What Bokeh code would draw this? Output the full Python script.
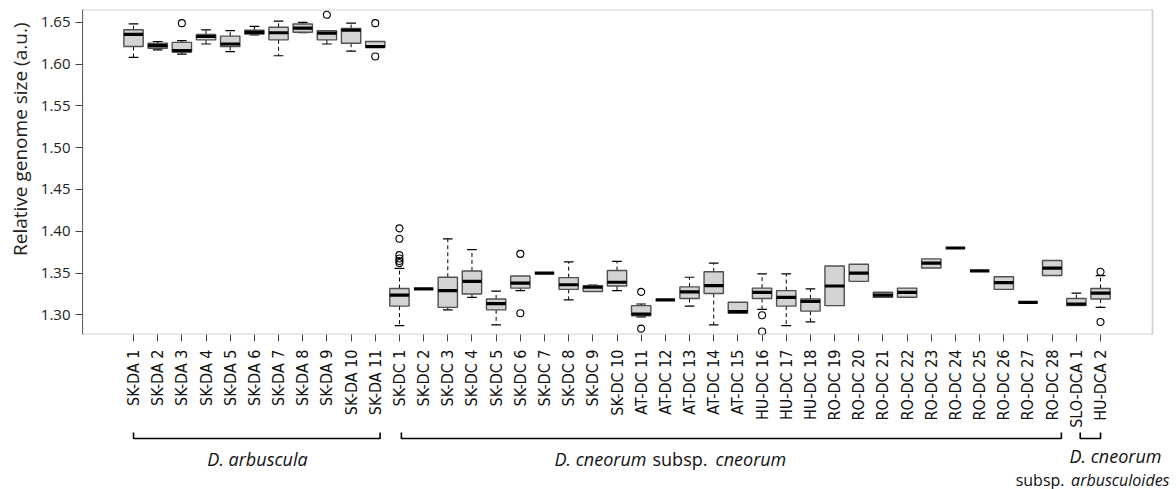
import numpy as np
from bokeh.plotting import figure
from bokeh.layouts import column
from bokeh.models import (Range1d, FixedTicker, PrintfTickFormatter, Title,
                          ColumnDataSource, BoxAnnotation)
from bokeh.core.properties import value
from bokeh.embed import file_html
from bokeh.resources import INLINE

# ---------------- data ----------------
names = ["SK-DA 1", "SK-DA 2", "SK-DA 3", "SK-DA 4", "SK-DA 5", "SK-DA 6",
         "SK-DA 7", "SK-DA 8", "SK-DA 9", "SK-DA 10", "SK-DA 11",
         "SK-DC 1", "SK-DC 2", "SK-DC 3", "SK-DC 4", "SK-DC 5", "SK-DC 6",
         "SK-DC 7", "SK-DC 8", "SK-DC 9", "SK-DC 10", "AT-DC 11", "AT-DC 12",
         "AT-DC 13", "AT-DC 14", "AT-DC 15", "HU-DC 16", "HU-DC 17", "HU-DC 18",
         "RO-DC 19", "RO-DC 20", "RO-DC 21", "RO-DC 22", "RO-DC 23", "RO-DC 24",
         "RO-DC 25", "RO-DC 26", "RO-DC 27", "RO-DC 28", "SLO-DCA 1", "HU-DCA 2"]

lower_whisker = [1.608, 1.617, 1.612, 1.624, 1.615, 1.635, 1.610, 1.6375, 1.624, 1.6155, 1.620,
                 1.287, 1.331, 1.306, 1.321, 1.288, 1.329, 1.350, 1.318, 1.328, 1.329,
                 1.2975, 1.318, 1.3105, 1.288, 1.302, 1.3065, 1.287, 1.2915,
                 1.311, 1.340, 1.321, 1.321, 1.356, 1.380, 1.3525, 1.3305, 1.315, 1.347,
                 1.311, 1.309]
q1 = [1.621, 1.619, 1.6145, 1.629, 1.621, 1.636, 1.629, 1.638, 1.629, 1.625, 1.620,
      1.3105, 1.331, 1.309, 1.325, 1.306, 1.332, 1.350, 1.3305, 1.328, 1.3345,
      1.299, 1.318, 1.3195, 1.3255, 1.302, 1.3195, 1.3105, 1.3045,
      1.311, 1.340, 1.321, 1.321, 1.356, 1.380, 1.3525, 1.3305, 1.315, 1.347,
      1.311, 1.319]
median = [1.6355, 1.622, 1.616, 1.633, 1.624, 1.638, 1.6375, 1.643, 1.637, 1.6405, 1.621,
          1.3235, 1.331, 1.329, 1.340, 1.3135, 1.338, 1.350, 1.336, 1.333, 1.339,
          1.301, 1.318, 1.3275, 1.335, 1.304, 1.327, 1.321, 1.316,
          1.3345, 1.350, 1.3235, 1.327, 1.362, 1.380, 1.3525, 1.3385, 1.315, 1.356,
          1.313, 1.326]
q3 = [1.641, 1.625, 1.626, 1.6355, 1.6335, 1.6405, 1.644, 1.648, 1.640, 1.6425, 1.627,
      1.3315, 1.331, 1.345, 1.3525, 1.319, 1.3465, 1.350, 1.3445, 1.335, 1.353,
      1.311, 1.318, 1.3335, 1.3515, 1.315, 1.332, 1.329, 1.319,
      1.3585, 1.3605, 1.327, 1.332, 1.367, 1.380, 1.3525, 1.3455, 1.315, 1.365,
      1.3195, 1.3315]
upper_whisker = [1.648, 1.627, 1.628, 1.641, 1.640, 1.645, 1.6515, 1.650, 1.640, 1.649, 1.627,
                 1.3555, 1.331, 1.391, 1.378, 1.3285, 1.3465, 1.350, 1.3635, 1.3355, 1.364,
                 1.313, 1.318, 1.345, 1.362, 1.315, 1.349, 1.349, 1.331,
                 1.3585, 1.3605, 1.327, 1.332, 1.367, 1.380, 1.3525, 1.3455, 1.315, 1.365,
                 1.326, 1.347]

outlier_cat = ["SK-DA 3", "SK-DA 9", "SK-DA 11", "SK-DA 11",
               "SK-DC 1", "SK-DC 1", "SK-DC 1", "SK-DC 1", "SK-DC 1", "SK-DC 1",
               "SK-DC 6", "SK-DC 6", "AT-DC 11", "AT-DC 11", "HU-DC 16", "HU-DC 16",
               "HU-DCA 2", "HU-DCA 2"]
outlier_val = [1.649, 1.659, 1.649, 1.609,
               1.4035, 1.391, 1.3715, 1.3675, 1.3645, 1.362,
               1.373, 1.302, 1.3275, 1.2835, 1.2995, 1.280,
               1.3515, 1.2915]

y_ticks = [1.30, 1.35, 1.40, 1.45, 1.50, 1.55, 1.60, 1.65]

groups_first = ["SK-DA 1", "SK-DC 1", "SLO-DCA 1"]
groups_last = ["SK-DA 11", "RO-DC 28", "HU-DCA 2"]

# ---------------- geometry ----------------
W = 1174
BL = 82                      # left border (px)
FRAME_R = 1152               # right edge of the drawn box (page px)
X0, XB = -1.11, 43.15        # data x at box left / box right
xpx = (XB - X0) / (FRAME_R - BL)
BR = 2
X1 = X0 + (W - BR - BL) * xpx   # frame extended to the right for the labels
Y0, Y1 = 1.2765, 1.6653

x = np.arange(1, len(names) + 1, dtype=float)
pos = {n: i + 1 for i, n in enumerate(names)}

p = figure(width=W, height=430,
           x_range=Range1d(X0, X1), y_range=Range1d(Y0, Y1),
           output_backend="svg", toolbar_location=None,
           min_border_left=BL, min_border_right=BR, min_border_top=9,
           min_border_bottom=90)
p.background_fill_color = "white"
p.border_fill_color = "white"
p.outline_line_color = None
p.xgrid.visible = False
p.ygrid.visible = False

# plot box
p.add_layout(BoxAnnotation(left=X0, right=XB, bottom=Y0, top=Y1,
                           fill_alpha=0, fill_color=None,
                           line_color="#666666", line_width=1.8))

lw = np.array(lower_whisker); uq = np.array(q3); lq = np.array(q1); uw = np.array(upper_whisker)
src = ColumnDataSource(dict(x=x, xl=x - 0.4, xr=x + 0.4, lw=lw, q1=lq, med=median, q3=uq, uw=uw))

up = uw > uq
lo = lw < lq
p.segment(x0=x[up], y0=uq[up], x1=x[up], y1=uw[up], line_color="black",
          line_dash="4 3", line_width=1)
p.segment(x0=x[lo], y0=lq[lo], x1=x[lo], y1=lw[lo], line_color="black",
          line_dash="4 3", line_width=1)
p.segment(x0=x[up] - 0.2, y0=uw[up], x1=x[up] + 0.2, y1=uw[up], line_color="black", line_width=1.2)
p.segment(x0=x[lo] - 0.2, y0=lw[lo], x1=x[lo] + 0.2, y1=lw[lo], line_color="black", line_width=1.2)

p.vbar(x="x", width=0.8, bottom="q1", top="q3", source=src,
       fill_color="#d3d3d3", line_color="#505050", line_width=1.4)
p.segment(x0="xl", y0="med", x1="xr", y1="med", source=src,
          line_color="black", line_width=3.2, line_cap="butt")

p.scatter(x=[pos[c] for c in outlier_cat], y=outlier_val, marker="circle", size=7,
          fill_color=None, line_color="black", line_width=1.1)

p.xaxis.ticker = FixedTicker(ticks=list(x))
p.xaxis.major_label_overrides = {int(i): n for i, n in zip(x, names)}
p.xaxis.major_label_orientation = np.pi / 2
p.xaxis.major_label_text_font = "DejaVu Sans Condensed, Open Sans, sans-serif"
p.xaxis.major_label_text_font_size = "16px"
p.xaxis.major_label_text_color = "#111111"
p.xaxis.major_label_standoff = 8
p.xaxis.major_tick_out = 7
p.xaxis.major_tick_in = 0
p.xaxis.minor_tick_line_color = None
p.xaxis.axis_line_color = None
p.xaxis.major_tick_line_color = "#444444"

p.yaxis.ticker = FixedTicker(ticks=y_ticks)
p.yaxis.formatter = PrintfTickFormatter(format="%.2f")
p.yaxis.major_label_text_font = "Open Sans"
p.yaxis.major_label_text_font_size = "15px"
p.yaxis.major_label_text_color = "#222222"
p.yaxis.major_label_standoff = 5
p.yaxis.major_tick_out = 7
p.yaxis.major_tick_in = 0
p.yaxis.minor_tick_line_color = None
p.yaxis.axis_line_color = "#666666"
p.yaxis.major_tick_line_color = "#444444"

ytitle = Title(text="Relative genome size (a.u.)", align="right", offset=13,
               text_font="Open Sans", text_font_size="19px",
               text_font_style="normal", text_color="#222222")
try:
    ytitle.standoff = 9
except Exception:
    pass
p.add_layout(ytitle, "left")

# ---------------- group brackets strip ----------------
H2 = 59
q = figure(width=W, height=H2,
           x_range=p.x_range, y_range=Range1d(H2, 0),
           output_backend="svg", toolbar_location=None,
           x_axis_location=None, y_axis_location=None,
           min_border_left=BL, min_border_right=BR, min_border_top=0, min_border_bottom=0)
q.outline_line_color = None
q.xgrid.visible = False
q.ygrid.visible = False

pads = [(0.0, 0.2), (0.08, 0.38), (0.16, 0.0)]
bx, by = [], []
for f, l, (pl, pr) in zip(groups_first, groups_last, pads):
    a = pos[f] + pl
    b = pos[l] + pr
    bx.append([a, a, b, b])
    by.append([2, 8, 8, 2])
q.multi_line(xs=bx, ys=by, line_color="black", line_width=1.6)

def fx(px):  # page px -> data x
    return X0 + (px - BL) * xpx

q.text(x=[fx(257), fx(554), fx(715), fx(1115)], y=[28, 28, 28, 25],
       text=["D. arbuscula", "D. cneorum", "cneorum", "D. cneorum"],
       text_align=["center", "left", "left", "center"], text_baseline="middle",
       text_font=value("Open Sans"), text_font_style="italic",
       text_font_size="18px", text_color="#111111")
q.text(x=[fx(652)], y=[28], text=["subsp."],
       text_align="left", text_baseline="middle",
       text_font=value("Open Sans"), text_font_style="normal",
       text_font_size="18px", text_color="#111111")
# second line of the third group label
q.text(x=[fx(1169)], y=[49], text=["arbusculoides"],
       text_align="right", text_baseline="middle",
       text_font=value("Open Sans"), text_font_style="italic",
       text_font_size="16px", text_color="#111111")
q.text(x=[fx(1064)], y=[49], text=["subsp."],
       text_align="right", text_baseline="middle",
       text_font=value("Open Sans"), text_font_style="normal",
       text_font_size="16px", text_color="#111111")

layout = column(p, q, spacing=0)
open("out.html", "w").write(file_html(layout, INLINE))
